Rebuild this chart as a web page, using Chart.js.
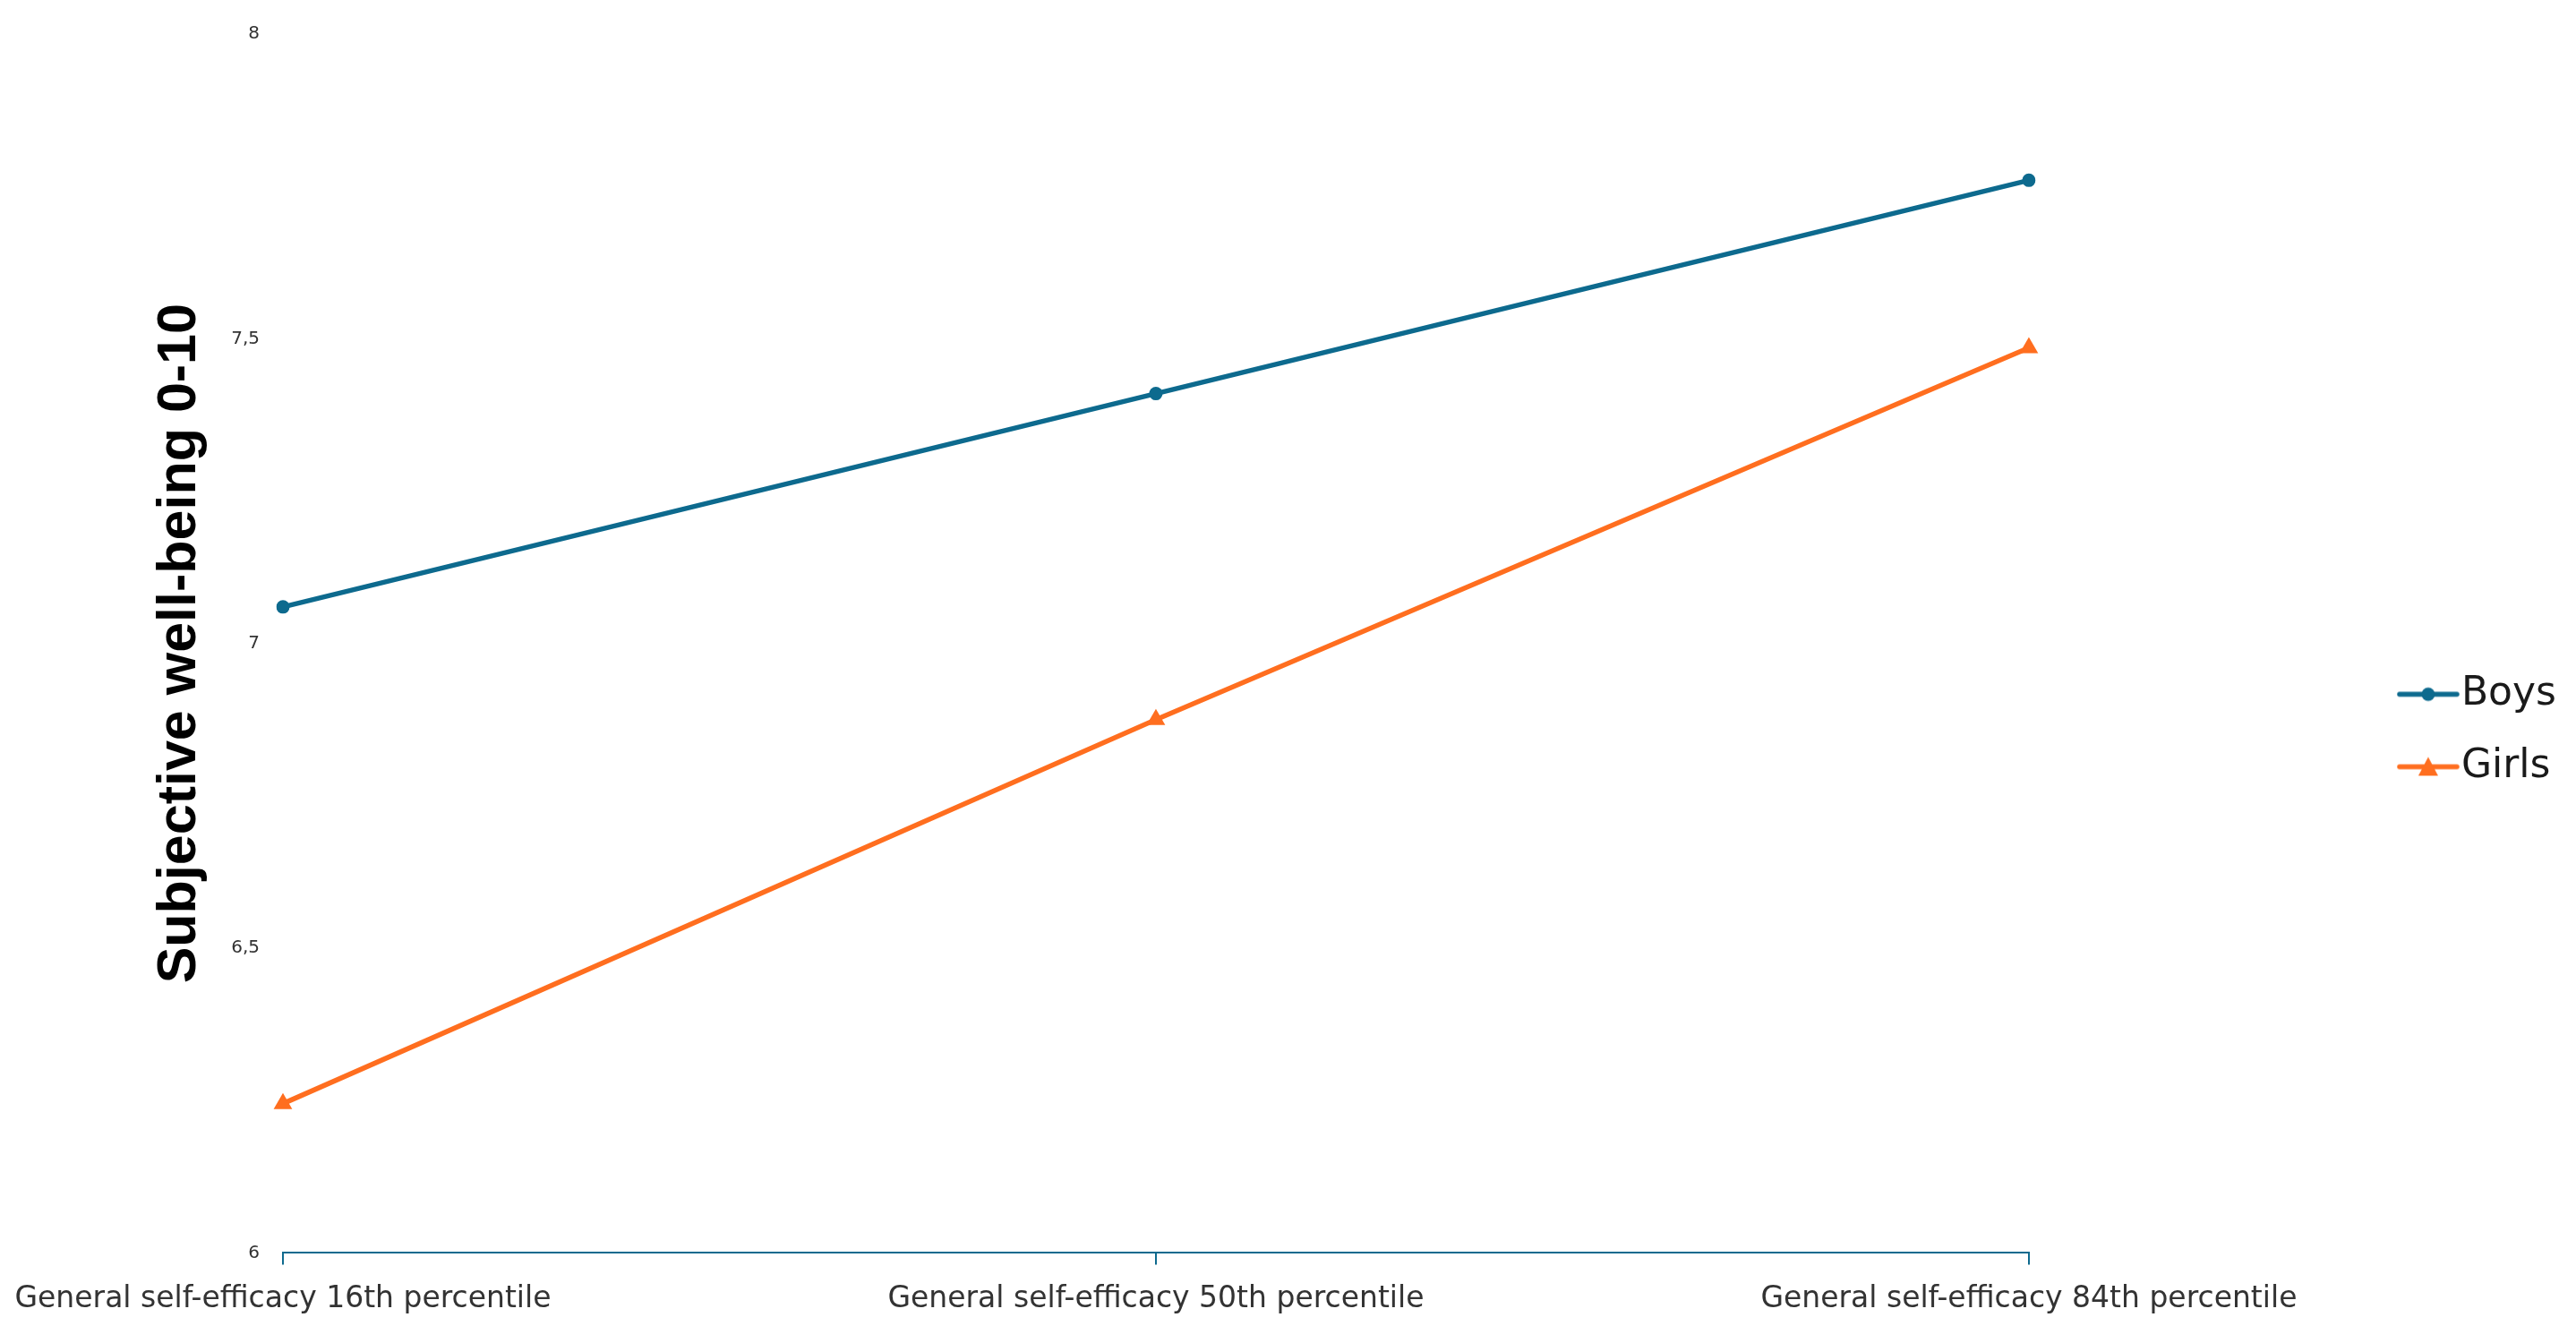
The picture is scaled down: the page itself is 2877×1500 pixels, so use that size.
<!DOCTYPE html>
<html>
<head>
<meta charset="utf-8">
<script src="https://cdn.jsdelivr.net/npm/chart.js@4.4.3/dist/chart.umd.min.js"></script>
<style>
  html, body { margin: 0; padding: 0; background: #fff; }
  #wrap { width: 2877px; height: 1500px; }
</style>
</head>
<body>
<div id="wrap"><canvas id="chart"></canvas></div>
<script>
// données
const categories = [
  "General self-efficacy 16th percentile",
  "General self-efficacy 50th percentile",
  "General self-efficacy 84th percentile",
];
const boys = [7.06, 7.41, 7.76];
const girls = [6.245, 6.875, 7.485];
const yTicks = [6, 6.5, 7, 7.5, 8];

const BOYS_COLOR = "#0d6a8e";
const GIRLS_COLOR = "#ff6e1f";
const TEXT_FONT = "DejaVu Sans, Liberation Sans, sans-serif";
const LEGEND_GAP = 394; // espace vide entre le graphe et la légende

// petit pictogramme ligne + marqueur pour la légende
function legendIcon(color, shape) {
  const c = document.createElement("canvas");
  c.width = 70;
  c.height = 24;
  const g = c.getContext("2d");
  g.strokeStyle = color;
  g.fillStyle = color;
  g.lineWidth = 5.5;
  g.lineCap = "round";
  g.beginPath();
  g.moveTo(3, 12);
  g.lineTo(67, 12);
  g.stroke();
  g.beginPath();
  if (shape === "circle") {
    g.arc(35, 12, 7.5, 0, Math.PI * 2);
  } else {
    g.moveTo(35, 1);
    g.lineTo(46, 22);
    g.lineTo(24, 22);
    g.closePath();
  }
  g.fill();
  return c;
}

const icons = [legendIcon(BOYS_COLOR, "circle"), legendIcon(GIRLS_COLOR, "triangle")];

// boîte vide placée entre la zone du graphe et la légende
const legendGap = {
  id: "legendGap",
  beforeInit(chart) {
    Chart.layouts.addBox(chart, {
      position: "right",
      weight: 500,
      fullSize: false,
      options: {},
      left: 0, top: 0, right: 0, bottom: 0, width: 0, height: 0,
      isHorizontal() { return false; },
      update(maxWidth, maxHeight) {
        this.width = LEGEND_GAP;
        this.height = maxHeight;
      },
      draw() {},
    });
  },
};

const chart = new Chart(document.getElementById("chart"), {
  type: "line",
  plugins: [legendGap],
  data: {
    labels: categories,
    datasets: [
      {
        label: "Boys",
        data: boys,
        borderColor: BOYS_COLOR,
        backgroundColor: BOYS_COLOR,
        borderWidth: 5.5,
        pointStyle: "circle",
        pointRadius: 7.5,
        pointBorderWidth: 0,
        tension: 0,
      },
      {
        label: "Girls",
        data: girls,
        borderColor: GIRLS_COLOR,
        backgroundColor: GIRLS_COLOR,
        borderWidth: 5.5,
        pointStyle: "triangle",
        pointRadius: 12,
        pointBorderWidth: 0,
        tension: 0,
      },
    ],
  },
  options: {
    responsive: true,
    maintainAspectRatio: false,
    animation: false,
    devicePixelRatio: 1,
    layout: { padding: { top: 35, right: 12, bottom: 10, left: 0 } },
    plugins: {
      tooltip: { enabled: false },
      legend: {
        display: true,
        position: "right",
        align: "center",
        title: { display: true, text: " ", padding: 0, font: { size: 89 } },
        labels: {
          usePointStyle: true,
          pointStyleWidth: 30,
          boxHeight: 24,
          padding: 37,
          color: "#1a1a1a",
          font: { family: TEXT_FONT, size: 44 },
          generateLabels: (ch) =>
            ch.data.datasets.map((ds, i) => ({
              text: ds.label,
              pointStyle: icons[i],
              fillStyle: ds.borderColor,
              strokeStyle: ds.borderColor,
              fontColor: "#1a1a1a",
              lineWidth: 0,
              datasetIndex: i,
              hidden: false,
            })),
        },
      },
    },
    scales: {
      x: {
        type: "category",
        offset: false,
        grid: {
          display: true,
          drawOnChartArea: false,
          drawTicks: true,
          tickLength: 13,
          color: BOYS_COLOR,
          lineWidth: 2,
        },
        border: { display: true, color: BOYS_COLOR, width: 2 },
        ticks: {
          padding: 19,
          maxRotation: 0,
          autoSkip: false,
          color: "#333",
          font: { family: TEXT_FONT, size: 33 },
        },
        afterFit: (s) => {
          s.paddingLeft = 0;
          s.paddingRight = 0;
        },
      },
      y: {
        min: 6,
        max: 8,
        grid: { display: false, drawTicks: false },
        border: { display: false },
        afterBuildTicks: (s) => {
          s.ticks = yTicks.map((v) => ({ value: v }));
        },
        ticks: {
          padding: 26,
          color: "#333",
          font: { family: TEXT_FONT, size: 20 },
          callback: (v) => String(v).replace(".", ","),
        },
        title: {
          display: true,
          text: "Subjective well-being 0-10",
          color: "#000",
          font: { family: "Liberation Sans, Arial, sans-serif", size: 61, weight: "bold" },
          padding: { top: 165, bottom: 0 },
          lineHeight: 1.2,
        },
        afterFit: (s) => {
          s.width = 316;
        },
      },
    },
  },
});
</script>
</body>
</html>
